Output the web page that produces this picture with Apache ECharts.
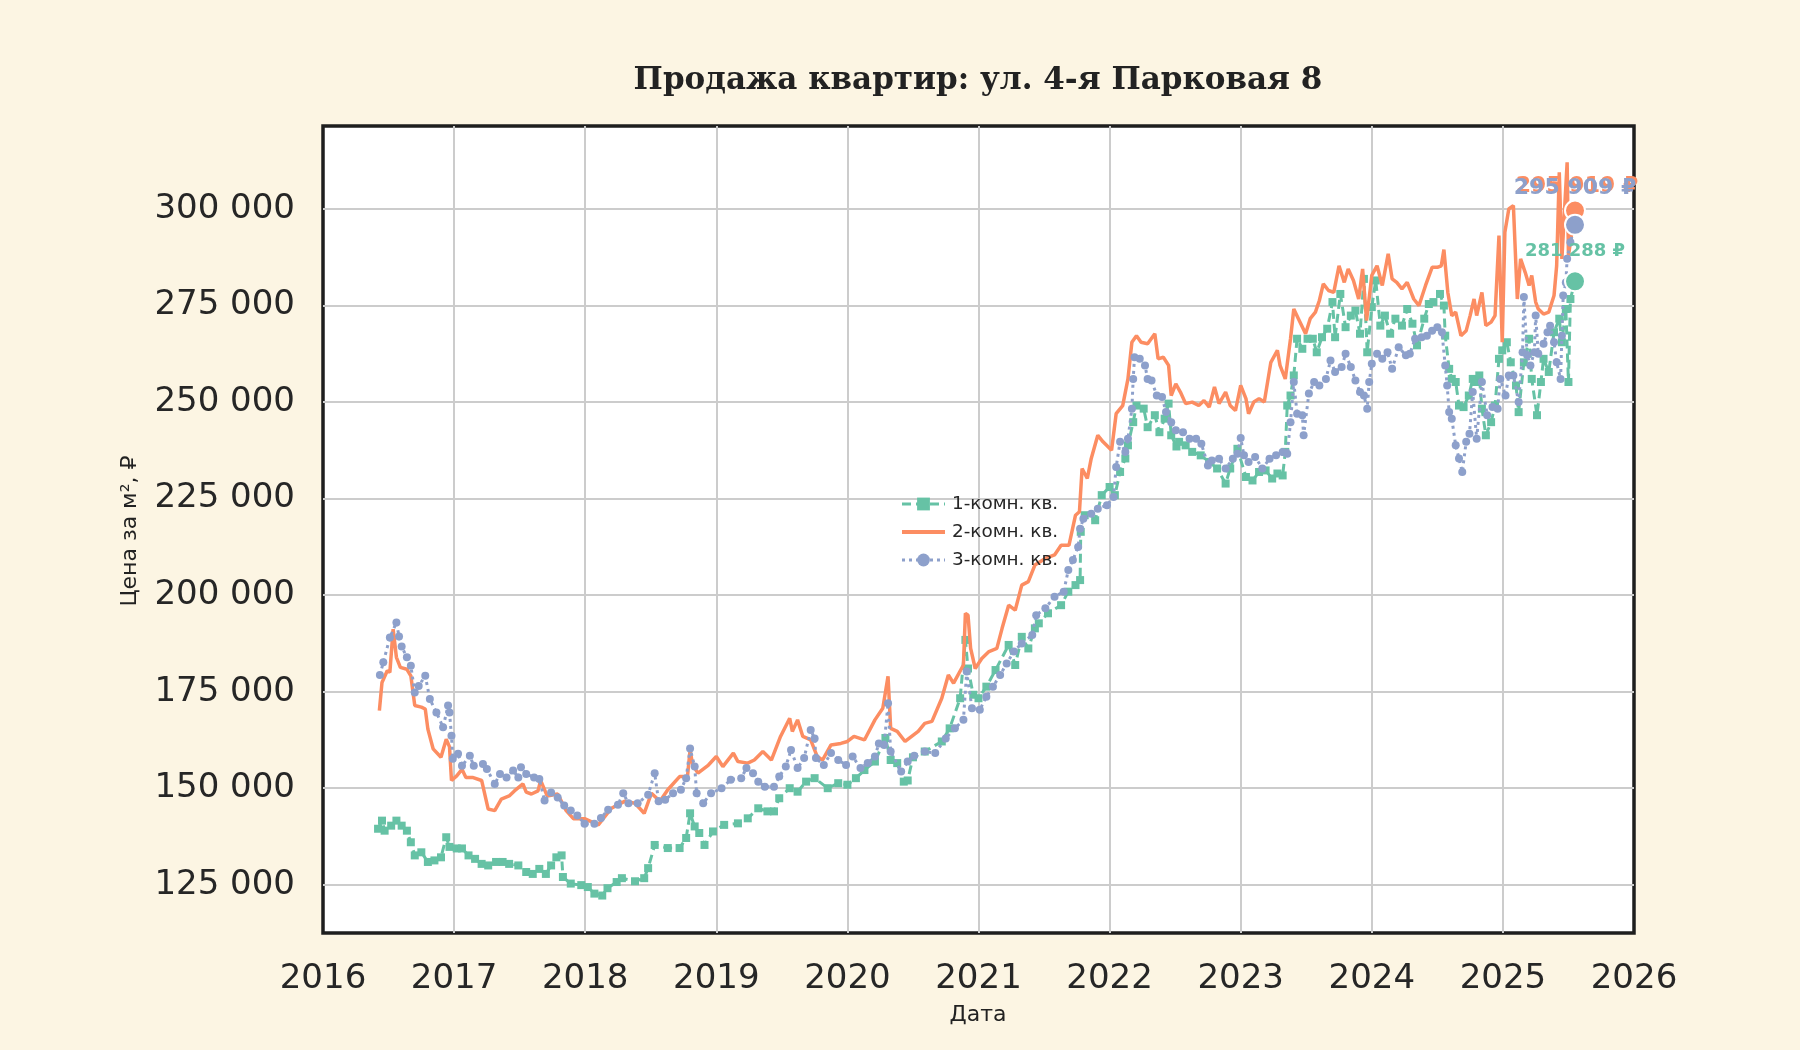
<!DOCTYPE html>
<html>
<head>
<meta charset="UTF-8">
<title>Продажа квартир: ул. 4-я Парковая 8</title>
<script src="https://cdn.jsdelivr.net/npm/echarts@6/dist/echarts.min.js"></script>
<style>
  html, body { margin: 0; padding: 0; background: #fcf5e3; }
  #main { width: 1800px; height: 1050px; }
</style>
</head>
<body>
<div id="main"></div>
<script>
// даты в долях года, цена за м2
var oneRoom = [
  [2016.42,139500],[2016.45,141600],[2016.47,139000],[2016.52,140300],[2016.56,141600],[2016.60,140300],
  [2016.64,139000],[2016.67,136000],[2016.70,132600],[2016.75,133400],[2016.80,130900],[2016.85,131300],
  [2016.90,132100],[2016.94,137300],[2016.965,134800],[2017.02,134400],[2017.06,134400],[2017.11,132600],
  [2017.16,131700],[2017.21,130400],[2017.26,130000],[2017.32,130900],[2017.37,130900],[2017.42,130400],
  [2017.49,130000],[2017.55,128300],[2017.60,127800],[2017.65,129100],[2017.70,127800],[2017.74,130000],
  [2017.78,132100],[2017.82,132600],[2017.83,127000],[2017.89,125300],[2017.97,124900],[2018.02,124400],
  [2018.07,122700],[2018.13,122200],[2018.17,124100],[2018.24,125700],[2018.28,126700],[2018.38,125900],
  [2018.45,126700],[2018.48,129300],[2018.53,135300],[2018.63,134500],[2018.72,134500],[2018.77,137100],
  [2018.80,143500],[2018.835,140100],[2018.87,138400],[2018.91,135300],[2018.975,138800],[2019.06,140500],
  [2019.165,140900],[2019.24,142200],[2019.32,144800],[2019.39,144000],[2019.44,144000],[2019.48,147400],
  [2019.56,150000],[2019.62,149100],[2019.685,151700],[2019.75,152600],[2019.85,150000],[2019.93,151300],
  [2020.00,150900],[2020.065,152600],[2020.13,154700],[2020.21,156900],[2020.29,163000],[2020.33,157300],
  [2020.38,156500],[2020.43,151700],[2020.46,152000],[2020.50,158000],[2020.59,159500],[2020.72,162100],
  [2020.78,165500],[2020.86,173300],[2020.90,188400],[2020.92,181000],[2020.96,174200],[2021.00,173300],
  [2021.06,176300],[2021.13,180600],[2021.23,187100],[2021.28,181900],[2021.33,189200],[2021.38,186200],
  [2021.43,191400],[2021.46,192700],[2021.53,195300],[2021.63,197400],[2021.685,200900],[2021.74,202600],
  [2021.775,203900],[2021.78,216400],[2021.81,220700],[2021.89,219400],[2021.94,225900],[2022.00,228000],
  [2022.04,225900],[2022.08,231900],[2022.12,235400],[2022.14,238800],[2022.18,244800],[2022.205,249100],
  [2022.26,248300],[2022.29,243500],[2022.345,246600],[2022.38,242200],[2022.42,245700],[2022.45,249600],
  [2022.47,241400],[2022.51,238500],[2022.53,239700],[2022.58,238800],[2022.63,237100],[2022.695,236200],
  [2022.76,234500],[2022.82,232800],[2022.885,228900],[2022.92,232800],[2022.975,237900],[2023.04,230600],
  [2023.09,229700],[2023.14,231900],[2023.19,232300],[2023.24,230200],[2023.28,231500],[2023.32,231000],
  [2023.34,237100],[2023.355,249100],[2023.38,251700],[2023.405,256900],[2023.43,266400],[2023.47,263800],
  [2023.51,266400],[2023.55,266400],[2023.58,262900],[2023.62,266800],[2023.66,269000],[2023.70,275900],
  [2023.72,266800],[2023.76,278000],[2023.80,269400],[2023.84,272400],[2023.875,273700],[2023.91,267700],
  [2023.94,281900],[2023.965,262900],[2024.00,274600],[2024.03,281500],[2024.065,269800],[2024.10,272400],
  [2024.14,267700],[2024.18,271600],[2024.23,269800],[2024.27,274100],[2024.31,270300],[2024.345,264700],
  [2024.40,271600],[2024.435,275400],[2024.47,275900],[2024.52,278000],[2024.55,275000],[2024.56,267200],
  [2024.59,258600],[2024.61,256000],[2024.64,255200],[2024.665,249100],[2024.70,248700],[2024.74,251700],
  [2024.77,256000],[2024.79,255200],[2024.82,256900],[2024.84,248300],[2024.87,241400],[2024.91,244800],
  [2024.94,249100],[2024.97,261200],[2024.995,263400],[2025.03,265500],[2025.06,260300],[2025.10,254300],
  [2025.12,247400],[2025.16,260300],[2025.20,266400],[2025.22,256000],[2025.26,246600],[2025.29,255200],
  [2025.31,261200],[2025.35,257800],[2025.39,268100],[2025.43,271600],[2025.45,265500],[2025.48,274100],
  [2025.50,255200],[2025.515,276700],[2025.55,281288]
];

var twoRoom = [
  [2016.43,170100],[2016.45,177400],[2016.49,180400],[2016.51,180000],[2016.535,191200],[2016.56,183900],
  [2016.59,181300],[2016.64,180800],[2016.67,179100],[2016.70,171400],[2016.75,171000],[2016.78,170500],
  [2016.80,165300],[2016.84,160200],[2016.90,158000],[2016.94,162700],[2016.965,160700],[2016.98,152000],
  [2017.02,153200],[2017.06,154900],[2017.09,152800],[2017.14,152800],[2017.21,152000],[2017.26,144600],
  [2017.31,144200],[2017.36,147200],[2017.42,148000],[2017.46,149300],[2017.525,151100],[2017.55,149000],
  [2017.59,148500],[2017.64,149300],[2017.66,152000],[2017.71,148000],[2017.79,148500],[2017.855,144200],
  [2017.91,142100],[2017.995,142100],[2018.10,140500],[2018.20,144800],[2018.30,146600],[2018.38,146100],
  [2018.45,143500],[2018.505,148700],[2018.57,146600],[2018.63,149600],[2018.72,153000],[2018.78,153000],
  [2018.80,159900],[2018.82,156000],[2018.86,153900],[2018.94,156000],[2019.00,158200],[2019.05,155600],
  [2019.13,159100],[2019.165,156900],[2019.24,156500],[2019.29,157300],[2019.355,159500],[2019.42,157300],
  [2019.49,163400],[2019.56,168100],[2019.58,164700],[2019.62,167700],[2019.66,163400],[2019.72,162500],
  [2019.77,158200],[2019.81,157300],[2019.875,161200],[2019.95,161600],[2020.00,162100],[2020.05,163400],
  [2020.13,162500],[2020.21,167700],[2020.27,170700],[2020.31,179000],[2020.33,165500],[2020.38,164700],
  [2020.44,162100],[2020.54,164700],[2020.59,166800],[2020.645,167300],[2020.72,173300],[2020.77,179300],
  [2020.81,177200],[2020.885,181900],[2020.90,195300],[2020.92,194800],[2020.94,186200],[2020.975,181000],
  [2021.025,183600],[2021.08,185400],[2021.14,186200],[2021.18,191400],[2021.23,197400],[2021.28,196100],
  [2021.33,202600],[2021.38,203500],[2021.43,207800],[2021.51,209500],[2021.58,210400],[2021.63,212900],
  [2021.69,212900],[2021.74,220700],[2021.77,221600],[2021.79,232800],[2021.83,230200],[2021.86,235400],
  [2021.91,241400],[2021.95,239700],[2022.015,237500],[2022.05,247000],[2022.10,249100],[2022.14,256000],
  [2022.17,265500],[2022.205,267200],[2022.24,265500],[2022.29,265100],[2022.345,267700],[2022.37,261200],
  [2022.41,261600],[2022.45,259500],[2022.47,251700],[2022.505,254700],[2022.54,252600],[2022.58,249600],
  [2022.63,250000],[2022.68,249100],[2022.72,250400],[2022.76,248700],[2022.80,253900],[2022.835,249600],
  [2022.885,252600],[2022.92,249100],[2022.96,247800],[2023.00,254300],[2023.04,250900],[2023.06,247000],
  [2023.10,250000],[2023.14,250900],[2023.18,250000],[2023.23,260300],[2023.28,263400],[2023.30,259500],
  [2023.34,256000],[2023.38,266400],[2023.405,274100],[2023.44,271600],[2023.495,267700],[2023.53,271600],
  [2023.57,273300],[2023.60,276300],[2023.63,280600],[2023.67,278900],[2023.71,278400],[2023.75,285300],
  [2023.79,281000],[2023.82,284500],[2023.86,281500],[2023.90,276700],[2023.93,284500],[2023.96,271100],
  [2024.00,282800],[2024.04,285300],[2024.08,280200],[2024.125,288400],[2024.155,281900],[2024.19,281000],
  [2024.23,279300],[2024.27,281000],[2024.32,276700],[2024.36,275000],[2024.41,280200],[2024.46,284900],
  [2024.50,284900],[2024.53,285300],[2024.55,289500],[2024.58,278400],[2024.61,272400],[2024.64,273300],
  [2024.68,267200],[2024.72,268500],[2024.75,272400],[2024.78,276700],[2024.80,272400],[2024.84,278400],
  [2024.87,269800],[2024.91,270700],[2024.94,272400],[2024.97,293100],[2024.995,265500],[2025.015,294000],
  [2025.045,300000],[2025.08,300900],[2025.11,276700],[2025.135,287100],[2025.17,283600],[2025.20,280200],
  [2025.22,282800],[2025.25,275900],[2025.27,274100],[2025.31,272800],[2025.35,273300],[2025.39,277600],
  [2025.41,285300],[2025.43,309500],[2025.45,287100],[2025.49,312100],[2025.50,287900],[2025.55,299600]
];

var threeRoom = [
  [2016.434,179300],[2016.46,182600],[2016.51,189000],[2016.56,192900],[2016.58,189300],[2016.60,186700],
  [2016.64,183900],[2016.67,181700],[2016.70,174800],[2016.73,176500],[2016.78,179100],[2016.815,173100],
  [2016.865,169600],[2016.916,165800],[2016.954,171400],[2016.965,169600],[2016.98,163600],[2016.99,157600],
  [2017.03,158900],[2017.06,155800],[2017.12,158400],[2017.15,155800],[2017.22,156300],[2017.25,155000],
  [2017.31,151100],[2017.35,153700],[2017.40,152800],[2017.45,154600],[2017.49,152800],[2017.51,155400],
  [2017.55,153700],[2017.61,152800],[2017.65,152400],[2017.69,146800],[2017.74,148900],[2017.79,147600],
  [2017.84,145500],[2017.89,144200],[2017.94,142900],[2017.995,140800],[2018.07,140800],[2018.12,142300],
  [2018.175,144400],[2018.25,145700],[2018.29,148700],[2018.33,146100],[2018.40,146100],[2018.48,148300],
  [2018.53,153900],[2018.56,146600],[2018.61,147000],[2018.67,148700],[2018.73,149600],[2018.77,152600],
  [2018.80,160300],[2018.835,155600],[2018.85,148700],[2018.90,146100],[2018.96,148700],[2019.04,150000],
  [2019.11,152200],[2019.19,152600],[2019.23,155200],[2019.28,153900],[2019.32,151700],[2019.37,150400],
  [2019.44,150400],[2019.48,153000],[2019.53,155600],[2019.57,159900],[2019.62,155200],[2019.67,157800],
  [2019.72,165100],[2019.75,162900],[2019.76,157800],[2019.82,156000],[2019.875,159100],[2019.93,157300],
  [2019.99,156000],[2020.04,158200],[2020.10,155200],[2020.155,156500],[2020.21,158200],[2020.24,161600],
  [2020.28,161200],[2020.31,172000],[2020.33,159500],[2020.41,154300],[2020.46,156900],[2020.51,158400],
  [2020.59,159500],[2020.67,159100],[2020.75,162900],[2020.82,165500],[2020.885,167700],[2020.91,180200],
  [2020.95,170700],[2021.01,170300],[2021.06,173700],[2021.11,176300],[2021.165,179300],[2021.215,182300],
  [2021.27,185400],[2021.33,187500],[2021.41,189700],[2021.44,194800],[2021.51,196600],[2021.58,199600],
  [2021.65,200900],[2021.685,206500],[2021.72,209100],[2021.76,212500],[2021.775,217200],[2021.80,219800],
  [2021.86,221100],[2021.91,222400],[2021.98,223300],[2022.03,225400],[2022.05,233200],[2022.08,239700],
  [2022.12,237100],[2022.14,240500],[2022.17,248300],[2022.18,256000],[2022.19,261600],[2022.23,261200],
  [2022.27,259500],[2022.29,256000],[2022.32,255600],[2022.36,251700],[2022.40,251300],[2022.43,247400],
  [2022.47,244800],[2022.505,242700],[2022.56,242200],[2022.61,240500],[2022.66,240500],[2022.70,239200],
  [2022.75,233600],[2022.78,234900],[2022.835,235300],[2022.885,232800],[2022.94,235300],[2022.975,236600],
  [2023.00,240700],[2023.025,236200],[2023.06,234500],[2023.11,235800],[2023.165,232800],[2023.22,235300],
  [2023.27,236200],[2023.32,237100],[2023.355,236600],[2023.38,244800],[2023.405,255200],[2023.43,247000],
  [2023.47,246600],[2023.48,241400],[2023.52,252200],[2023.56,255200],[2023.60,254300],[2023.65,256000],
  [2023.685,260800],[2023.72,257800],[2023.77,259100],[2023.80,262500],[2023.84,259100],[2023.875,255600],
  [2023.91,252600],[2023.94,251700],[2023.965,248300],[2023.98,255200],[2024.00,259900],[2024.04,262500],
  [2024.08,261200],[2024.12,262900],[2024.155,258600],[2024.205,264200],[2024.26,262100],[2024.29,262500],
  [2024.33,266400],[2024.38,266800],[2024.42,267200],[2024.46,268500],[2024.50,269400],[2024.535,268100],
  [2024.56,259500],[2024.575,254300],[2024.59,247400],[2024.61,245700],[2024.64,238800],[2024.665,235400],
  [2024.69,231900],[2024.72,239700],[2024.745,241800],[2024.77,252600],[2024.80,240500],[2024.84,255200],
  [2024.88,246600],[2024.92,248700],[2024.96,248300],[2024.98,256000],[2025.02,251700],[2025.045,256900],
  [2025.08,256900],[2025.12,250000],[2025.15,262900],[2025.16,277200],[2025.185,262100],[2025.21,259500],
  [2025.24,262900],[2025.25,272400],[2025.27,262500],[2025.31,265100],[2025.34,268100],[2025.36,269800],
  [2025.39,265500],[2025.41,260300],[2025.44,256000],[2025.45,267200],[2025.46,277600],[2025.48,281000],
  [2025.49,287100],[2025.515,291400],[2025.55,295909]
];

var seriesNames = ['1-комн. кв.', '2-комн. кв.', '3-комн. кв.'];
var colors = ['#66c2a5', '#fc8d62', '#8da0cb'];
var lastLabels = ['281 288 ₽', '295 919 ₽', '295 909 ₽'];
var yearTicks = [2016, 2017, 2018, 2019, 2020, 2021, 2022, 2023, 2024, 2025, 2026];

function fmtThousands(v) {
	return String(v).replace(/\B(?=(\d{3})+(?!\d))/g, ' ');
}

var chart = echarts.init(document.getElementById('main'), null, {renderer: 'canvas'});

var gridLine = '#cccccc';

// точка и подпись на последнем значении
function lastPoint(data, i, fontSize, dist, offs) {
	return {
		name: seriesNames[i] + ' last',
		type: 'scatter',
		data: [data[data.length - 1]],
		symbol: 'circle',
		symbolSize: 20,
		itemStyle: { color: colors[i], borderColor: '#ffffff', borderWidth: 2, opacity: 1 },
		label: {
			show: true,
			position: 'top',
			distance: dist,
			offset: offs,
			formatter: lastLabels[i],
			color: colors[i],
			fontFamily: 'DejaVu Sans',
			fontWeight: 'bold',
			fontSize: fontSize
		},
		z: 5 + i
	};
}

chart.setOption({
	animation: false,
	backgroundColor: '#fcf5e3',
	graphic: [
		{ type: 'text', x: 978, y: 81,
		  style: { text: 'Продажа квартир: ул. 4-я Парковая 8', fill: '#222', font: 'bold 31px "DejaVu Serif"', textAlign: 'center', textVerticalAlign: 'middle' } },
		{ type: 'text', x: 978, y: 1015,
		  style: { text: 'Дата', fill: '#222', font: '22px "DejaVu Sans"', textAlign: 'center', textVerticalAlign: 'middle' } },
		{ type: 'text', x: 130, y: 531, rotation: Math.PI / 2,
		  style: { text: 'Цена за м², ₽', fill: '#222', font: '22px "DejaVu Sans"', textAlign: 'center', textVerticalAlign: 'middle' } }
	],
	legend: {
		data: [
			{ name: seriesNames[0], lineStyle: { width: 3 } },
			{ name: seriesNames[1], itemStyle: { opacity: 0 }, lineStyle: { width: 4 } },
			{ name: seriesNames[2], lineStyle: { width: 3 } }
		],
		orient: 'vertical',
		left: 895,
		top: 490,
		itemWidth: 43,
		itemHeight: 16,
		itemGap: 10,
		textStyle: { fontFamily: 'DejaVu Sans', fontSize: 18.4, color: '#262626', padding: [0, 0, 0, 2] }
	},
	grid: {
		left: 323,
		right: 166,
		top: 126,
		bottom: 117,
		show: true,
		backgroundColor: '#ffffff',
		borderColor: '#1e1e1e',
		borderWidth: 3.5,
		z: 0
	},
	xAxis: {
		type: 'value',
		min: yearTicks[0],
		max: yearTicks[yearTicks.length - 1],
		interval: 1,
		axisLine: { show: false },
		axisTick: { show: false },
		axisLabel: {
			margin: 29,
			fontFamily: 'DejaVu Sans',
			fontSize: 34,
			color: '#262626',
			formatter: function(v) { return String(Math.round(v)); }
		},
		splitLine: { show: true, showMinLine: false, showMaxLine: false, lineStyle: { color: gridLine, width: 2 } }
	},
	yAxis: {
		type: 'value',
		min: 112500,
		max: 321500,
		interval: 12500,
		axisLine: { show: false },
		axisTick: { show: false },
		axisLabel: {
			margin: 28,
			fontFamily: 'DejaVu Sans',
			fontSize: 34,
			color: '#262626',
			formatter: function(v) { return v % 25000 === 0 ? fmtThousands(v) : ''; }
		},
		splitLine: { show: true, showMaxLine: false, lineStyle: { color: ['rgba(0,0,0,0)', gridLine], width: 2 } }
	},
	series: [
		{
			name: seriesNames[0],
			type: 'line',
			data: oneRoom,
			symbol: 'rect',
			symbolSize: 8,
			showSymbol: true,
			itemStyle: { color: colors[0] },
			lineStyle: { color: colors[0], width: 3, type: [9, 5] },
			z: 2
		},
		{
			name: seriesNames[1],
			type: 'line',
			data: twoRoom,
			symbol: 'none',
			itemStyle: { color: colors[1] },
			lineStyle: { color: colors[1], width: 3.5 },
			z: 3
		},
		{
			name: seriesNames[2],
			type: 'line',
			data: threeRoom,
			symbol: 'circle',
			symbolSize: 8,
			showSymbol: true,
			itemStyle: { color: colors[2] },
			lineStyle: { color: colors[2], width: 3, type: [3, 4] },
			z: 4
		},
		lastPoint(oneRoom, 0, 18, 10, [0, 0]),
		lastPoint(twoRoom, 1, 22, 2, [2, 0]),
		lastPoint(threeRoom, 2, 22, 15, [0, 0])
	]
});
</script>
</body>
</html>
